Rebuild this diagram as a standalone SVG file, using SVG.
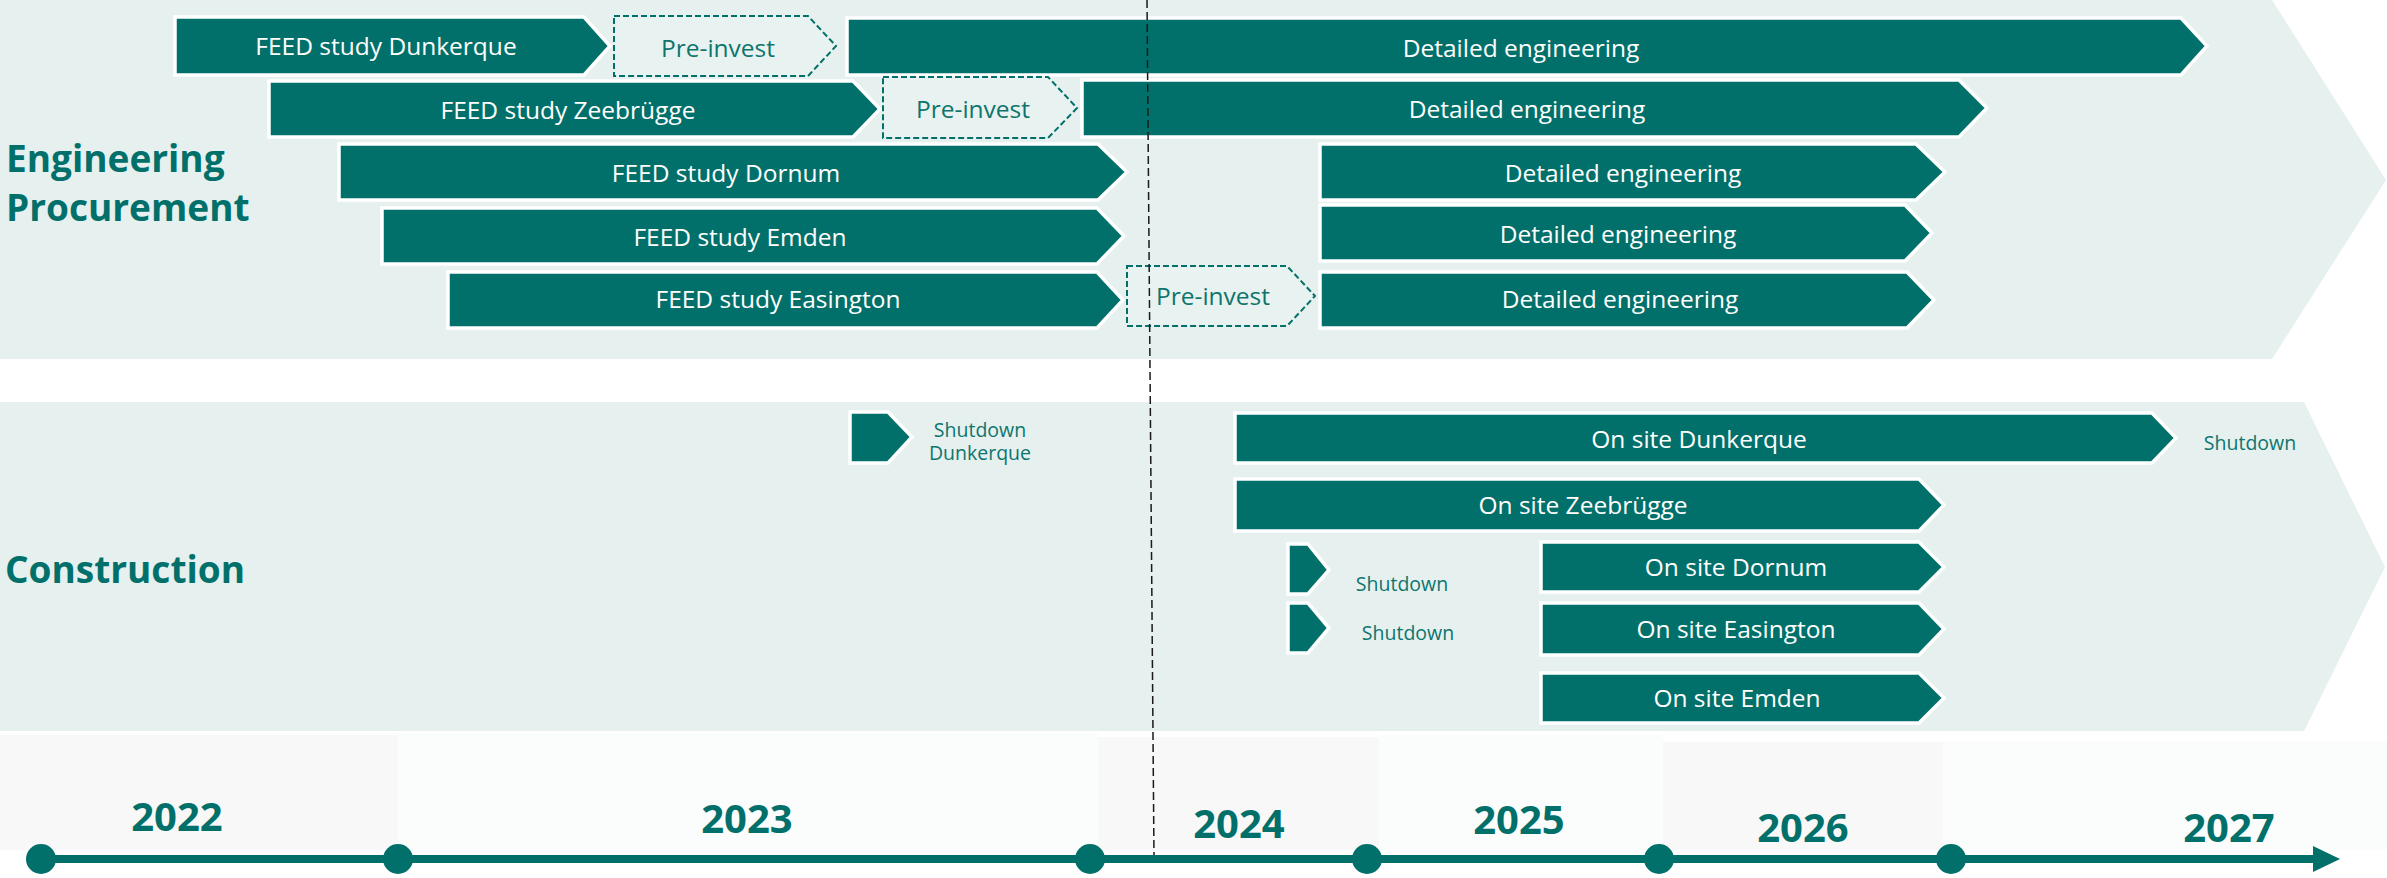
<svg xmlns="http://www.w3.org/2000/svg" width="2387" height="878" viewBox="0 0 2387 878">
<style>
.band{fill:#E5F0EF}
.bar{fill:#02706A;stroke:#FFFFFF;stroke-width:3.5;stroke-linejoin:miter}
.pre{fill:#E8F2F1;stroke:#02706A;stroke-width:2;stroke-dasharray:6 3}
.bt{font-family:"Open Sans","Noto Sans",sans-serif;font-size:24.5px;fill:#FFFFFF;text-anchor:middle}
.pt{font-family:"Open Sans","Noto Sans",sans-serif;font-size:24.5px;fill:#0E756D;text-anchor:middle}
.st{font-family:"Open Sans","Noto Sans",sans-serif;font-size:19.5px;fill:#0E756D;text-anchor:middle}
.title{font-family:"Open Sans","Noto Sans",sans-serif;font-size:37px;font-weight:700;fill:#02706A}
.yr{font-family:"Open Sans","Noto Sans",sans-serif;font-size:40px;font-weight:700;fill:#02706A;text-anchor:middle}
.dot{fill:#02706A}
</style>
<rect x="0" y="0" width="2387" height="878" fill="#FFFFFF"/>
<g id="timeline-bg">
<rect x="0" y="735" width="398" height="115" fill="#F8F8F8"/>
<rect x="398" y="733" width="700" height="117" fill="#FBFCFC"/>
<rect x="1098" y="737" width="281" height="113" fill="#F8F8F8"/>
<rect x="1379" y="735" width="284" height="115" fill="#FBFCFC"/>
<rect x="1663" y="742" width="280" height="108" fill="#F8F8F8"/>
<rect x="1943" y="741" width="444" height="109" fill="#FBFCFC"/>
</g>
<g id="band-engineering">
<polygon class="band" points="0,0 2272,0 2386,180 2272,359 0,359"/>
<text class="title" x="6" y="172">Engineering</text>
<text class="title" x="6" y="221">Procurement</text>
</g>
<g id="band-construction">
<polygon class="band" points="0,402 2304,402 2385,567 2304,731 0,731"/>
<text class="title" x="5" y="583">Construction</text>
</g>
<g id="feed-dunkerque"><polygon class="bar" points="175,17 584,17 610,46 584,75 175,75"/><text class="bt" x="386" y="55">FEED study Dunkerque</text></g>
<g id="preinvest-dunkerque"><polygon class="pre" points="614,16 808,16 836,46 808,76 614,76"/><text class="pt" x="718" y="57">Pre-invest</text></g>
<g id="detailed-dunkerque"><polygon class="bar" points="847,18 2181,18 2207,46 2181,75 847,75"/><text class="bt" x="1521" y="57">Detailed engineering</text></g>
<g id="feed-zeebrugge"><polygon class="bar" points="269,81 853,81 880,109 853,137 269,137"/><text class="bt" x="568" y="119">FEED study Zeebrügge</text></g>
<g id="preinvest-zeebrugge"><polygon class="pre" points="883,77 1048,77 1077,108 1048,138 883,138"/><text class="pt" x="973" y="118">Pre-invest</text></g>
<g id="detailed-zeebrugge"><polygon class="bar" points="1082,80 1959,80 1987,108 1959,137 1082,137"/><text class="bt" x="1527" y="118">Detailed engineering</text></g>
<g id="feed-dornum"><polygon class="bar" points="339,144 1098,144 1127,172 1098,200 339,200"/><text class="bt" x="726" y="182">FEED study Dornum</text></g>
<g id="detailed-dornum"><polygon class="bar" points="1320,144 1916,144 1945,172 1916,200 1320,200"/><text class="bt" x="1623" y="182">Detailed engineering</text></g>
<g id="feed-emden"><polygon class="bar" points="382,208 1097,208 1124,236 1097,264 382,264"/><text class="bt" x="740" y="246">FEED study Emden</text></g>
<g id="detailed-emden"><polygon class="bar" points="1320,205 1905,205 1932,233 1905,261 1320,261"/><text class="bt" x="1618" y="243">Detailed engineering</text></g>
<g id="feed-easington"><polygon class="bar" points="448,272 1097,272 1123,300 1097,328 448,328"/><text class="bt" x="778" y="308">FEED study Easington</text></g>
<g id="preinvest-easington"><polygon class="pre" points="1127,266 1287,266 1315,296 1287,326 1127,326"/><text class="pt" x="1213" y="305">Pre-invest</text></g>
<g id="detailed-easington"><polygon class="bar" points="1320,272 1907,272 1934,300 1907,328 1320,328"/><text class="bt" x="1620" y="308">Detailed engineering</text></g>
<g id="shutdown-dunkerque-1"><polygon class="bar" points="850,412 888,412 912,437 888,463 850,463"/><text class="st" x="980" y="437">Shutdown</text><text class="st" x="980" y="460">Dunkerque</text></g>
<g id="onsite-dunkerque"><polygon class="bar" points="1235,413 2152,413 2176,438 2152,463 1235,463"/><text class="bt" x="1699" y="448">On site Dunkerque</text></g>
<g id="shutdown-dunkerque-2"><text class="st" x="2250" y="450">Shutdown</text></g>
<g id="onsite-zeebrugge"><polygon class="bar" points="1235,479 1919,479 1944,505 1919,531 1235,531"/><text class="bt" x="1583" y="514">On site Zeebrügge</text></g>
<g id="shutdown-dornum"><polygon class="bar" points="1288,544 1308,544 1329,570 1308,594 1288,594"/><text class="st" x="1402" y="591">Shutdown</text></g>
<g id="shutdown-easington"><polygon class="bar" points="1288,603 1308,603 1329,628 1308,653 1288,653"/><text class="st" x="1408" y="640">Shutdown</text></g>
<g id="onsite-dornum"><polygon class="bar" points="1541,542 1919,542 1944,567 1919,592 1541,592"/><text class="bt" x="1736" y="576">On site Dornum</text></g>
<g id="onsite-easington"><polygon class="bar" points="1541,603 1919,603 1944,629 1919,655 1541,655"/><text class="bt" x="1736" y="638">On site Easington</text></g>
<g id="onsite-emden"><polygon class="bar" points="1541,673 1919,673 1944,698 1919,723 1541,723"/><text class="bt" x="1737" y="707">On site Emden</text></g>
<g id="years">
<text class="yr" x="177" y="831">2022</text>
<text class="yr" x="747" y="833">2023</text>
<text class="yr" x="1239" y="838">2024</text>
<text class="yr" x="1519" y="834">2025</text>
<text class="yr" x="1803" y="842">2026</text>
<text class="yr" x="2229" y="842">2027</text>
</g>
<g id="connectors">
<line x1="1147" y1="0" x2="1154" y2="858" stroke="#1A1A1A" stroke-width="1.5" stroke-dasharray="8 4"/>
<line x1="41" y1="859" x2="2316" y2="859" stroke="#02706A" stroke-width="8"/>
<polygon points="2313,846 2340,859 2313,872" fill="#02706A"/>
</g>
<g id="milestones">
<circle class="dot" cx="41" cy="859" r="15"/>
<circle class="dot" cx="398" cy="859" r="15"/>
<circle class="dot" cx="1090" cy="859" r="15"/>
<circle class="dot" cx="1367" cy="859" r="15"/>
<circle class="dot" cx="1659" cy="859" r="15"/>
<circle class="dot" cx="1951" cy="859" r="15"/>
</g>
</svg>
